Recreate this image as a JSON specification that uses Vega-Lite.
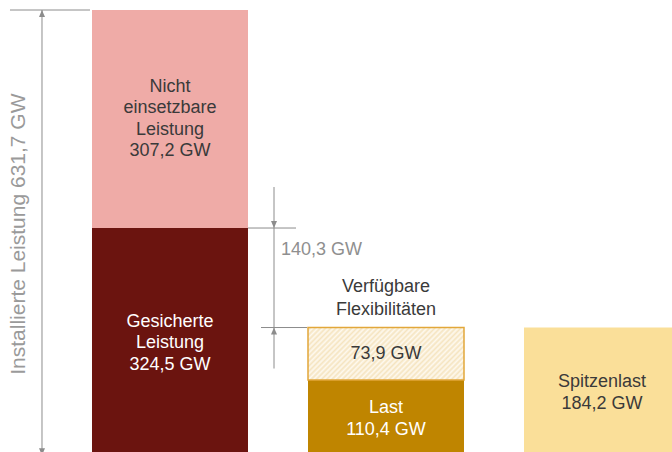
{
  "$schema": "https://vega.github.io/schema/vega-lite/v6.json",
  "width": 672,
  "height": 442,
  "autosize": {"type": "none"},
  "padding": {"left": 0, "right": 0, "top": 10, "bottom": 0},
  "background": "#ffffff",
  "config": {"view": {"stroke": null}},
  "datasets": {
    "segments": [
      {"col": "A", "seg": "gesichert", "lo": 0, "hi": 324.5, "label": "Gesicherte\nLeistung\n324,5 GW", "tone": "light"},
      {"col": "A", "seg": "nicht", "lo": 324.5, "hi": 631.7, "label": "Nicht\neinsetzbare\nLeistung\n307,2 GW", "tone": "dark"},
      {"col": "B", "seg": "last", "lo": 0, "hi": 110.4, "label": "Last\n110,4 GW", "tone": "light"},
      {"col": "B", "seg": "flex", "lo": 110.4, "hi": 184.3, "label": "73,9 GW", "tone": "dark"},
      {"col": "C", "seg": "spitze", "lo": 0, "hi": 184.2, "label": "Spitzenlast\n184,2 GW", "tone": "dark"}
    ],
    "total": [{"col": "A", "top": 631.7, "bot": 0, "mid": 315.85, "label": "Installierte  Leistung 631,7 GW"}],
    "diff": [{"col": "B", "top": 324.5, "bot": 184.3, "label": "140,3 GW", "labelpos": 293.5, "flexlabel": "Verfügbare\nFlexibilitäten", "flexpos": 225.2}]
  },
  "layer": [
    {
      "data": {"name": "segments"},
      "transform": [{"filter": "datum.seg != 'flex'"}],
      "mark": {"type": "bar"},
      "encoding": {
        "x": {"field": "col", "type": "nominal", "scale": {"type": "band", "domain": ["A", "B", "C"], "range": [0, 772], "paddingInner": 0.2778, "paddingOuter": 0.4259}, "axis": null},
        "y": {"field": "hi", "type": "quantitative", "scale": {"domain": [8.9, 631.7], "nice": false, "zero": false}, "axis": null},
        "y2": {"field": "lo"},
        "color": {"field": "seg", "type": "nominal", "scale": {"domain": ["nicht", "gesichert", "last", "spitze"], "range": ["#EFABA7", "#6B140F", "#BF8500", "#FADF99"]}, "legend": null}
      }
    },
    {
      "data": {"name": "segments"},
      "transform": [{"filter": "datum.seg == 'flex'"}],
      "mark": {
        "type": "bar",
        "stroke": "#E2A73A",
        "strokeWidth": 1.5,
        "fill": {
          "gradient": "linear", "x1": 0, "y1": 0, "x2": 1.2, "y2": 0.4,
          "stops": [
            {"offset": 0, "color": "#FEF9EF"}, {"offset": 0.0125, "color": "#F5E4C0"},
            {"offset": 0.025, "color": "#FEF9EF"}, {"offset": 0.0375, "color": "#F5E4C0"},
            {"offset": 0.05, "color": "#FEF9EF"}, {"offset": 0.0625, "color": "#F5E4C0"},
            {"offset": 0.075, "color": "#FEF9EF"}, {"offset": 0.0875, "color": "#F5E4C0"},
            {"offset": 0.1, "color": "#FEF9EF"}, {"offset": 0.1125, "color": "#F5E4C0"},
            {"offset": 0.125, "color": "#FEF9EF"}, {"offset": 0.1375, "color": "#F5E4C0"},
            {"offset": 0.15, "color": "#FEF9EF"}, {"offset": 0.1625, "color": "#F5E4C0"},
            {"offset": 0.175, "color": "#FEF9EF"}, {"offset": 0.1875, "color": "#F5E4C0"},
            {"offset": 0.2, "color": "#FEF9EF"}, {"offset": 0.2125, "color": "#F5E4C0"},
            {"offset": 0.225, "color": "#FEF9EF"}, {"offset": 0.2375, "color": "#F5E4C0"},
            {"offset": 0.25, "color": "#FEF9EF"}, {"offset": 0.2625, "color": "#F5E4C0"},
            {"offset": 0.275, "color": "#FEF9EF"}, {"offset": 0.2875, "color": "#F5E4C0"},
            {"offset": 0.3, "color": "#FEF9EF"}, {"offset": 0.3125, "color": "#F5E4C0"},
            {"offset": 0.325, "color": "#FEF9EF"}, {"offset": 0.3375, "color": "#F5E4C0"},
            {"offset": 0.35, "color": "#FEF9EF"}, {"offset": 0.3625, "color": "#F5E4C0"},
            {"offset": 0.375, "color": "#FEF9EF"}, {"offset": 0.3875, "color": "#F5E4C0"},
            {"offset": 0.4, "color": "#FEF9EF"}, {"offset": 0.4125, "color": "#F5E4C0"},
            {"offset": 0.425, "color": "#FEF9EF"}, {"offset": 0.4375, "color": "#F5E4C0"},
            {"offset": 0.45, "color": "#FEF9EF"}, {"offset": 0.4625, "color": "#F5E4C0"},
            {"offset": 0.475, "color": "#FEF9EF"}, {"offset": 0.4875, "color": "#F5E4C0"},
            {"offset": 0.5, "color": "#FEF9EF"}, {"offset": 0.5125, "color": "#F5E4C0"},
            {"offset": 0.525, "color": "#FEF9EF"}, {"offset": 0.5375, "color": "#F5E4C0"},
            {"offset": 0.55, "color": "#FEF9EF"}, {"offset": 0.5625, "color": "#F5E4C0"},
            {"offset": 0.575, "color": "#FEF9EF"}, {"offset": 0.5875, "color": "#F5E4C0"},
            {"offset": 0.6, "color": "#FEF9EF"}, {"offset": 0.6125, "color": "#F5E4C0"},
            {"offset": 0.625, "color": "#FEF9EF"}, {"offset": 0.6375, "color": "#F5E4C0"},
            {"offset": 0.65, "color": "#FEF9EF"}, {"offset": 0.6625, "color": "#F5E4C0"},
            {"offset": 0.675, "color": "#FEF9EF"}, {"offset": 0.6875, "color": "#F5E4C0"},
            {"offset": 0.7, "color": "#FEF9EF"}, {"offset": 0.7125, "color": "#F5E4C0"},
            {"offset": 0.725, "color": "#FEF9EF"}, {"offset": 0.7375, "color": "#F5E4C0"},
            {"offset": 0.75, "color": "#FEF9EF"}, {"offset": 0.7625, "color": "#F5E4C0"},
            {"offset": 0.775, "color": "#FEF9EF"}, {"offset": 0.7875, "color": "#F5E4C0"},
            {"offset": 0.8, "color": "#FEF9EF"}, {"offset": 0.8125, "color": "#F5E4C0"},
            {"offset": 0.825, "color": "#FEF9EF"}, {"offset": 0.8375, "color": "#F5E4C0"},
            {"offset": 0.85, "color": "#FEF9EF"}, {"offset": 0.8625, "color": "#F5E4C0"},
            {"offset": 0.875, "color": "#FEF9EF"}, {"offset": 0.8875, "color": "#F5E4C0"},
            {"offset": 0.9, "color": "#FEF9EF"}, {"offset": 0.9125, "color": "#F5E4C0"},
            {"offset": 0.925, "color": "#FEF9EF"}, {"offset": 0.9375, "color": "#F5E4C0"},
            {"offset": 0.95, "color": "#FEF9EF"}, {"offset": 0.9625, "color": "#F5E4C0"},
            {"offset": 0.975, "color": "#FEF9EF"}, {"offset": 0.9875, "color": "#F5E4C0"},
            {"offset": 1, "color": "#FEF9EF"}
          ]
        }
      },
      "encoding": {
        "x": {"field": "col", "type": "nominal"},
        "y": {"field": "hi", "type": "quantitative"},
        "y2": {"field": "lo"}
      }
    },
    {
      "data": {"name": "segments"},
      "transform": [{"calculate": "(datum.lo + datum.hi) / 2", "as": "mid"}, {"calculate": "split(datum.label, '\\n').length", "as": "nlines"}, {"filter": "datum.nlines == 1"}],
      "mark": {"type": "text", "font": "Liberation Sans", "fontSize": 18, "lineHeight": 21.5, "lineBreak": "\n", "align": "center", "baseline": "middle"},
      "encoding": {
        "x": {"field": "col", "type": "nominal"},
        "y": {"field": "mid", "type": "quantitative"},
        "text": {"field": "label"},
        "color": {"condition": {"test": "datum.tone == 'light'", "value": "#FFFFFF"}, "value": "#3A3A3A"}
      }
    },
    {
      "data": {"name": "segments"},
      "transform": [{"calculate": "(datum.lo + datum.hi) / 2", "as": "mid"}, {"calculate": "split(datum.label, '\\n').length", "as": "nlines"}, {"filter": "datum.nlines == 2"}],
      "mark": {"type": "text", "font": "Liberation Sans", "fontSize": 18, "lineHeight": 21.5, "lineBreak": "\n", "align": "center", "baseline": "middle", "yOffset": -10.75},
      "encoding": {
        "x": {"field": "col", "type": "nominal"},
        "y": {"field": "mid", "type": "quantitative"},
        "text": {"field": "label"},
        "color": {"condition": {"test": "datum.tone == 'light'", "value": "#FFFFFF"}, "value": "#3A3A3A"}
      }
    },
    {
      "data": {"name": "segments"},
      "transform": [{"calculate": "(datum.lo + datum.hi) / 2", "as": "mid"}, {"calculate": "split(datum.label, '\\n').length", "as": "nlines"}, {"filter": "datum.nlines == 3"}],
      "mark": {"type": "text", "font": "Liberation Sans", "fontSize": 18, "lineHeight": 21.5, "lineBreak": "\n", "align": "center", "baseline": "middle", "yOffset": -21.5},
      "encoding": {
        "x": {"field": "col", "type": "nominal"},
        "y": {"field": "mid", "type": "quantitative"},
        "text": {"field": "label"},
        "color": {"condition": {"test": "datum.tone == 'light'", "value": "#FFFFFF"}, "value": "#3A3A3A"}
      }
    },
    {
      "data": {"name": "segments"},
      "transform": [{"calculate": "(datum.lo + datum.hi) / 2", "as": "mid"}, {"calculate": "split(datum.label, '\\n').length", "as": "nlines"}, {"filter": "datum.nlines == 4"}],
      "mark": {"type": "text", "font": "Liberation Sans", "fontSize": 18, "lineHeight": 21.5, "lineBreak": "\n", "align": "center", "baseline": "middle", "yOffset": -32.25},
      "encoding": {
        "x": {"field": "col", "type": "nominal"},
        "y": {"field": "mid", "type": "quantitative"},
        "text": {"field": "label"},
        "color": {"condition": {"test": "datum.tone == 'light'", "value": "#FFFFFF"}, "value": "#3A3A3A"}
      }
    },
    {
      "data": {"name": "total"},
      "mark": {"type": "rule", "color": "#8C8C8C", "strokeWidth": 1, "xOffset": -128},
      "encoding": {
        "x": {"field": "col", "type": "nominal"},
        "y": {"field": "top", "type": "quantitative"},
        "y2": {"field": "bot"}
      }
    },
    {
      "data": {"name": "total"},
      "mark": {"type": "rule", "color": "#8C8C8C", "strokeWidth": 1, "xOffset": -160, "x2Offset": -80},
      "encoding": {
        "x": {"field": "col", "type": "nominal"},
        "x2": {"field": "col"},
        "y": {"field": "top", "type": "quantitative"}
      }
    },
    {
      "data": {"name": "total"},
      "mark": {"type": "point", "filled": true, "color": "#8C8C8C", "opacity": 1, "size": 196, "shape": "M-0.43,1L0.43,1L0,0Z", "xOffset": -128},
      "encoding": {
        "x": {"field": "col", "type": "nominal"},
        "y": {"field": "top", "type": "quantitative"}
      }
    },
    {
      "data": {"name": "total"},
      "mark": {"type": "point", "filled": true, "color": "#8C8C8C", "opacity": 1, "size": 196, "shape": "M-0.43,-1L0.43,-1L0,0Z", "xOffset": -128, "yOffset": -3},
      "encoding": {
        "x": {"field": "col", "type": "nominal"},
        "y": {"field": "bot", "type": "quantitative"}
      }
    },
    {
      "data": {"name": "total"},
      "mark": {"type": "text", "font": "Liberation Sans", "fontSize": 21, "color": "#9A9A9A", "angle": 270, "align": "center", "baseline": "middle", "xOffset": -151},
      "encoding": {
        "x": {"field": "col", "type": "nominal"},
        "y": {"field": "mid", "type": "quantitative"},
        "text": {"field": "label"}
      }
    },
    {
      "data": {"name": "diff"},
      "mark": {"type": "rule", "color": "#8C8C8C", "strokeWidth": 1, "xOffset": -112, "yOffset": -41, "y2Offset": 41},
      "encoding": {
        "x": {"field": "col", "type": "nominal"},
        "y": {"field": "top", "type": "quantitative"},
        "y2": {"field": "bot"}
      }
    },
    {
      "data": {"name": "diff"},
      "mark": {"type": "rule", "color": "#8C8C8C", "strokeWidth": 1, "xOffset": -138, "x2Offset": -90},
      "encoding": {
        "x": {"field": "col", "type": "nominal"},
        "x2": {"field": "col"},
        "y": {"field": "top", "type": "quantitative"}
      }
    },
    {
      "data": {"name": "diff"},
      "mark": {"type": "rule", "color": "#8C8C8C", "strokeWidth": 1, "xOffset": -125, "x2Offset": -79},
      "encoding": {
        "x": {"field": "col", "type": "nominal"},
        "x2": {"field": "col"},
        "y": {"field": "bot", "type": "quantitative"}
      }
    },
    {
      "data": {"name": "diff"},
      "mark": {"type": "point", "filled": true, "color": "#8C8C8C", "opacity": 1, "size": 196, "shape": "M-0.43,-1L0.43,-1L0,0Z", "xOffset": -112},
      "encoding": {
        "x": {"field": "col", "type": "nominal"},
        "y": {"field": "top", "type": "quantitative"}
      }
    },
    {
      "data": {"name": "diff"},
      "mark": {"type": "point", "filled": true, "color": "#8C8C8C", "opacity": 1, "size": 196, "shape": "M-0.43,1L0.43,1L0,0Z", "xOffset": -112},
      "encoding": {
        "x": {"field": "col", "type": "nominal"},
        "y": {"field": "bot", "type": "quantitative"}
      }
    },
    {
      "data": {"name": "diff"},
      "mark": {"type": "text", "font": "Liberation Sans", "fontSize": 18, "color": "#8F8F8F", "align": "left", "baseline": "middle", "xOffset": -105},
      "encoding": {
        "x": {"field": "col", "type": "nominal"},
        "y": {"field": "labelpos", "type": "quantitative"},
        "text": {"field": "label"}
      }
    },
    {
      "data": {"name": "diff"},
      "mark": {"type": "text", "font": "Liberation Sans", "fontSize": 18, "lineHeight": 23, "lineBreak": "\n", "color": "#3A3A3A", "align": "center", "baseline": "middle", "yOffset": -11.5},
      "encoding": {
        "x": {"field": "col", "type": "nominal"},
        "y": {"field": "flexpos", "type": "quantitative"},
        "text": {"field": "flexlabel"}
      }
    }
  ]
}
